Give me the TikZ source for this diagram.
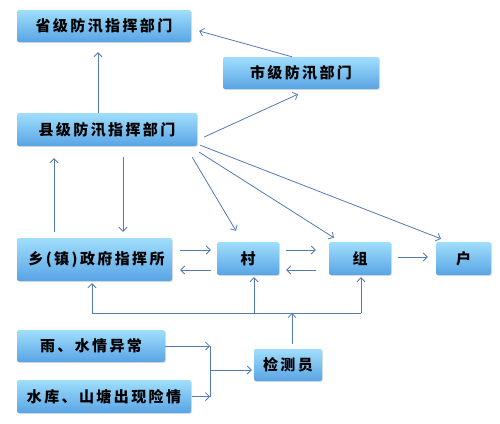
\documentclass[tikz,border=0pt]{standalone}
\usepackage{fontspec}
\newfontfamily\cjk[LetterSpace=16]{Noto Sans CJK SC}
\usetikzlibrary{arrows.meta}
\usetikzlibrary{shadows}
\definecolor{boxtop}{RGB}{160,222,252}
\definecolor{boxbot}{RGB}{88,164,228}
\definecolor{linec}{RGB}{84,122,180}

\begin{document}
\begin{tikzpicture}[x=1pt,y=-1pt,
  box/.style={rounded corners=2pt,top color=boxtop,bottom color=boxbot,
    drop shadow={opacity=0.25,shadow xshift=1pt,shadow yshift=-1pt},
    inner sep=0pt,minimum height=32pt,font=\cjk\bfseries\fontsize{15}{15}\selectfont},
  arr/.style={draw=linec,line width=0.8pt,->,>={Straight Barb[length=4pt,width=8pt]}},
  ln/.style={draw=linec,line width=0.8pt}]
\useasboundingbox (0,0) rectangle (500,423);
\coordinate (b1) at (92,313);
\coordinate (b2) at (254,313);
\coordinate (b3) at (361,313);
\coordinate (b0) at (292,313);
\coordinate (j) at (210,370);
\node[box,minimum width=174pt] (sheng) at (104,26) {省级防汛指挥部门};
\node[box,minimum width=156pt] (shi) at (301,73) {市级防汛部门};
\node[box,minimum width=180pt,minimum height=33pt] (xian) at (107,129.5) {县级防汛指挥部门};
\node[box,minimum width=155pt,minimum height=43pt] (xiang) at (94.5,259.5) {\hspace{4pt}乡(镇)政府指挥所};
\node[box,minimum width=62pt,minimum height=33pt] (cun) at (248,258.5) {村};
\node[box,minimum width=62pt,minimum height=33pt] (zu) at (360,258.5) {组};
\node[box,minimum width=55pt,minimum height=33pt] (hu) at (463.5,258.5) {户};
\node[box,minimum width=148pt] (yu) at (91,346) {雨、水情异常};
\node[box,minimum width=174pt,minimum height=33pt] (shuiku) at (104,396.5) {水库、山塘出现险情};
\node[box,minimum width=68pt] (jcy) at (288,365) {检测员};
\draw[arr] ([xshift=-9pt]shi.north) -- ([xshift=8pt,yshift=-5pt]sheng.east);
\draw[arr] ([xshift=-9pt]xian.north) -- ([xshift=-6pt,yshift=-10pt]sheng.south);
\draw[arr] ([xshift=7pt,yshift=-7.5pt]xian.east) -- ([xshift=-3pt,yshift=-5pt]shi.south);
\draw[arr] ([xshift=-5pt,yshift=-11pt]xian.south east) -- ([xshift=-12pt,yshift=11pt]cun.north);
\draw[arr] ([xshift=2pt,yshift=-6pt]xian.south east) -- ([xshift=-26pt,yshift=4pt]zu.north);
\draw[arr] ([xshift=3pt,yshift=1pt]xian.south east) -- ([xshift=-22.5pt,yshift=3pt]hu.north);
\draw[arr] ([xshift=-40.5pt,yshift=6pt]xiang.north) -- ([xshift=-53pt,yshift=-12pt]xian.south);
\draw[arr] ([xshift=16pt,yshift=-11pt]xian.south) -- ([xshift=28.5pt,yshift=6pt]xiang.north);
\draw[arr] ([xshift=8pt,yshift=9.5pt]xiang.east) -- ([xshift=-6pt,yshift=8.5pt]cun.west);
\draw[arr] ([xshift=-6pt,yshift=-11.5pt]cun.west) -- ([xshift=8pt,yshift=-10.5pt]xiang.east);
\draw[arr] ([xshift=7pt,yshift=8.5pt]cun.east) -- ([xshift=-13pt,yshift=8.5pt]zu.west);
\draw[arr] ([xshift=-13pt,yshift=-11.5pt]zu.west) -- ([xshift=7pt,yshift=-11.5pt]cun.east);
\draw[arr] ([xshift=7pt,yshift=1.5pt]zu.east) -- ([xshift=-8pt,yshift=1.5pt]hu.west);
\draw[ln] (b1) -- (b3);
\draw[arr] (b1) -- ([yshift=-2pt]xiang.south -| b1);
\draw[arr] (b2) -- ([yshift=-2pt]cun.south -| b2);
\draw[arr] (b3) -- ([yshift=-2pt]zu.south -| b3);
\draw[arr] ([xshift=4pt,yshift=5pt]jcy.north) -- (b0);
\draw[arr] (yu.east) -- (yu.east -| j);
\draw[arr] ([xshift=1pt]shuiku.east) -- (shuiku.east -| j);
\draw[ln] (yu.east -| j) -- (shuiku.east -| j);
\draw[arr] (j) -- ([xshift=-2pt,yshift=-5pt]jcy.west);
\end{tikzpicture}
\end{document}
